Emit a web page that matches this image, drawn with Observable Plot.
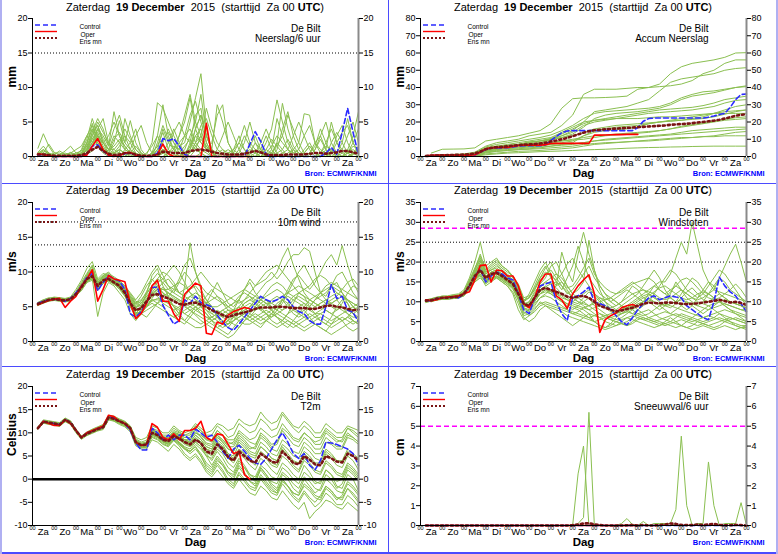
<!DOCTYPE html>
<html><head><meta charset="utf-8">
<script src="https://cdn.jsdelivr.net/npm/d3@7"></script>
<script src="https://cdn.jsdelivr.net/npm/@observablehq/plot@0.6"></script>
<style>
body{margin:0;background:#fff;}
#fig{position:relative;width:778px;height:554px;background:#fff;overflow:hidden;}
.panel{position:absolute;}
.panel svg{display:block;}
.sep{position:absolute;background:#4b4bff;}
.edge{position:absolute;background:#b0b0f2;}
</style></head><body><div id="fig"></div>
<script>
const FONT = '"Liberation Sans", Arial, sans-serif';
const dayNames = ["Za","Zo","Ma","Di","Wo","Do","Vr","Za","Zo","Ma","Di","Wo","Do","Vr","Za"];
const dayBounds = [0,24,48,72,96,120,144,168,192,216,240,264,288,312,336,360];
const dayNoons = [12,36,60,84,108,132,156,180,204,228,252,276,300,324,348];
const titleParts = [["Zaterdag  ", "normal"], ["19 December", "bold"], ["  2015  (starttijd  Za 00 ", "normal"], ["UTC", "bold"], [")", "normal"]];
const station = "De Bilt";
const source = "Bron: ECMWF/KNMI";
const legendLabels = ["Control", "Oper", "Ens mn"];

// ---------- Neerslag/6 uur (mm), 6-hourly from +6h ----------
const precipTicks = [0,5,10,15,20];
const precipRefs = [15];
const precipControl = [0.2,0.3,0.1,0, 0,0,0,0, 0,0.3,1.5,1.7, 0.8,0.1,0,0.1, 0.4,0.5,0.2,0, 0,0,0.5,2.6, 2.3,2.6,1.5,0.3, 0,0,0,0, 0,0,0,0, 0,0,0,1.8, 3.6,2.2,0.3,0, 0,0,0,0, 0,0,0,0, 0,0.5,1.3,0.3, 3.5,7.0,3.5,0.2];
const precipOper = [0.4,0.3,0.1,0, 0,0,0,0, 0,0.2,1.5,2.6, 1.0,0.2,0,0.1, 0.5,0.6,0.2,0, 0,0,0.3,1.8, 0.4,0,0,0, 0,0,0,4.8, 0,0,0,0, 0,0,0,0];
const precipMean = [0.3,0.3,0.2,0.1, 0.1,0.1,0.1,0.1, 0.2,0.5,1.0,1.4, 0.8,0.4,0.2,0.3, 0.5,0.5,0.3,0.1, 0.1,0.1,0.3,0.7, 0.6,0.5,0.5,0.5, 0.8,0.9,1.0,0.9, 0.7,0.5,0.4,0.3, 0.3,0.3,0.4,0.6, 0.8,0.6,0.3,0.2, 0.2,0.2,0.3,0.3, 0.3,0.3,0.4,0.5, 0.5,0.4,0.5,0.6, 0.8,0.8,0.6,0.4];
const precipMembers = [
 [1.2,3.3,1.5,0.3, 0,0,0.2,0.5, 0.8,2.5,5.5,3.0, 1.0,0.2,0.5,1.0, 0.5,0,0,0, 0.3,2.0,7.8,7.0, 5.0,3.0,1.5,2.0, 5.0,8.5,12.0,4.0, 1.0,0,0,0.5, 1.0,0.3,0,0, 0,0.5,2.0,4.0, 8.2,5.0,2.0,0.5, 0,0.5,1.5,0.5, 0,0.5,1.0,0.5, 0,0,0.3,0.5],
 [0,0.5,1.8,0.6, 0.2,0.8,1.5,0.5, 0.5,1.5,3.5,5.5, 4.0,1.5,6.5,3.0, 1.5,0.5,0.2,0, 0,0.5,1.5,3.5, 1.0,0.3,0,1.0, 3.0,5.0,9.0,3.0, 1.0,7.5,5.0,2.0, 0.5,0,0,0.3, 1.0,0.5,0,0, 2.0,7.7,4.0,1.5, 0.5,0,0,1.0, 3.0,5.0,2.0,0.5, 0,1.0,3.0,6.5],
 [0.3,0,0,0.3, 0.8,0.3,0,0, 0.3,1.0,2.5,4.0, 5.5,2.0,1.0,0.5, 5.5,3.0,1.0,0.3, 0,0,0.5,2.0, 4.0,2.0,0.5,0, 1.5,4.0,6.0,3.0, 1.0,0.5,0,0, 0,1.0,3.0,1.5, 0.5,0,0,0.5, 1.5,3.0,6.0,4.0, 2.0,6.2,6.0,2.0, 0.5,0,0,0.5, 2.0,5.5,2.0,0.5],
 [0,0,0,0, 0,0.3,0.5,0.2, 1.0,3.0,4.5,2.0, 1.0,0.5,2.0,5.2, 2.0,5.2,2.0,0.5, 0,0,1.0,4.0, 2.0,1.0,3.0,5.0, 8.5,4.0,2.0,1.0, 0.5,0,0,0, 0.5,2.0,4.5,2.0, 1.0,0.5,0,0, 0,0.5,1.0,3.0, 5.0,3.0,1.0,0, 0,1.0,5.0,2.0, 1.0,0.5,0,0],
 [0.5,1.0,0.3,0, 0,0,0,0, 0.5,2.0,4.0,3.0, 2.0,1.0,0.5,0, 0,0.5,1.5,0.5, 0,0.5,3.0,7.5, 3.0,1.0,0,0, 2.0,6.0,7.0,2.0, 0.5,0,0,0, 0,0,0.5,1.5, 3.0,1.0,0.5,0.5, 2.0,1.0,0,0, 0,0,0.5,1.5, 4.0,2.0,0.5,0, 0,0.5,2.0,4.0],
 [0.2,0.5,0,0, 0,0,0,0, 0,0.5,2.0,4.0, 3.0,1.5,4.0,6.0, 3.0,1.0,0,0, 0,0,0.5,1.0, 0.5,0,0,0.5, 1.0,3.0,4.0,1.0, 2.0,6.0,7.5,2.0, 0.5,0,0,0, 0.5,2.0,4.0,2.0, 0.5,0,0,0, 0,1.0,2.0,0.5, 0,0,0.5,3.0, 4.5,2.0,0.5,0],
 [0,0,0,0, 0,0,0,0, 0.3,1.5,2.5,3.5, 1.5,0.5,0,0, 0,0,0,0, 0,0,0,0.5, 2.0,4.0,2.0,0.5, 0,0,0.5,1.0, 0.5,0,0,0, 0,0,0,0.5, 2.0,1.0,0,0, 0,0,0.5,1.0, 0.5,0,0,0, 0,0,0,0, 0,0.5,1.0,0.5],
 [0.6,1.5,0.5,0, 0.3,0.5,0.2,0, 0.3,1.2,3.0,4.5, 2.5,1.0,1.5,2.5, 1.5,0.5,0,0, 0.5,1.5,3.0,1.5, 0.5,1.0,3.0,6.0, 9.0,5.0,3.0,1.0, 0,0,0,0, 1.0,3.0,1.0,0, 0,0,0.5,1.5, 3.0,2.0,1.0,0.5, 1.0,3.0,4.5,2.0, 1.0,0.5,0,0, 0.5,1.0,0.5,0.5],
 [0,0.3,0.3,0, 0,0,0.5,1.0, 1.5,3.0,2.0,3.0, 1.0,0.5,0,0, 1.0,2.0,0.5,0, 0,0,1.0,0.5, 0,0.5,2.0,3.0, 2.0,1.0,0.5,0, 0,0.5,1.0,0.5, 0,0,0,0, 0,0,0,1.0, 5.5,3.0,1.0,0, 0,0,0,0, 0,0,2.0,3.5, 2.0,0.5,0,0],
 [0,0,0,0, 0,0,0,0, 0,0.5,1.5,2.0, 1.0,0.5,0.5,1.5, 3.0,2.0,4.0,1.0, 0,0,0,1.0, 0.5,0,0,0, 0.5,2.0,4.5,5.5, 3.0,1.0,0.5,0, 0,0,0,0, 0,0,0,0, 0,0,0,0, 0,0.5,1.5,0.5, 0,0,0,0, 0,0,0.5,1.5],
 [0.2,0.8,0.4,0, 0,0,0,0, 0.2,1.8,4.8,2.5, 1.2,0.8,2.5,3.5, 2.0,1.0,0.5,0, 0,0,2.0,4.5, 2.5,1.0,0.5,0, 0.5,1.5,2.5,1.5, 0.5,0,0.5,1.0, 0.5,0,0,0, 0,0,1.0,2.5, 1.5,0.5,0,0, 0,0,0,1.0, 2.5,1.0,0,0, 0,0.5,1.5,1.0],
 [0,0,0.2,0.5, 0.5,0,0,0.3, 0.5,0.8,2.0,3.0, 2.0,1.0,1.0,2.0, 4.0,2.5,1.0,0.2, 0,0,0,0.5, 1.0,3.5,5.0,3.0, 4.0,2.0,1.0,0.5, 0,0,0,0.5, 1.0,2.0,1.0,0.5, 0,0,0,0, 0.5,1.0,2.5,1.0, 0,0,0,0, 0.5,2.0,4.0,2.0, 0.5,0,0,0],
 [0.5,0.5,0.2,0, 0,0,0,0, 0,0.5,3.0,5.0, 3.5,2.0,0.5,0.5, 0,0,0,0, 0,0,0.5,2.5, 3.5,2.0,1.0,3.0, 6.0,8.0,5.0,2.0, 0.5,0,0,0, 0,0,0,0, 0,0.5,1.0,0.5, 0,0,0,0, 0,0,0.5,2.0, 3.0,1.0,0,0, 0,0,0,0],
 [0,0,0,0, 0,0,0,0, 0,0.3,0.8,1.5, 1.0,0.5,0.5,1.0, 0.5,0.2,0,0, 0,0,0,0, 0,0,0,0.5, 1.5,3.0,2.0,1.0, 0.5,0,0,0, 0,0,0.5,1.0, 0.5,0,0,0, 0,0,0,0, 0.5,0,0,0, 0,0,0,0, 0,0,0,0],
 [0.3,1.0,0.5,0, 0,0,0,0, 0,1.0,2.0,2.5, 2.0,3.0,5.0,3.0, 1.0,0.5,0,0, 0,0.5,1.5,1.0, 0,0,0,0, 0,1.0,3.0,7.0, 4.0,2.0,1.0,0, 0,0,0,0, 0,1.0,3.0,1.0, 0,0,0,0, 0,0,0,0, 0,0,0.5,2.0, 3.5,4.5,2.0,0.5],
 [0,0,0,0, 0,0,0,0, 0.2,1.0,3.5,4.5, 2.0,0.5,0,0, 0,1.0,3.0,4.5, 2.0,0.5,0,0, 0,0,0.5,1.5, 2.5,1.5,0.5,0, 0,1.0,3.0,5.0, 3.0,1.0,0,0, 0,0,0,0, 1.0,4.0,6.5,3.0, 1.0,0,0,0, 0,0,0,0, 0,0,0.5,1.0],
 [0.2,0.2,0,0, 0,0.2,0.6,0.3, 0.5,2.0,4.0,1.5, 0.5,0,0,0, 0,0,0,0, 0,0.3,1.0,0.5, 0,0,0,0, 0.5,2.0,3.0,1.5, 0.5,0,0,0, 0,0,0,0, 0,0,0,0, 0,0,0,0, 0,0,0,0, 0.5,1.5,1.0,0, 0,0,0,0],
 [0,0.3,0.5,0.2, 0,0,0,0, 0,0.5,1.5,4.0, 2.0,1.0,3.0,2.0, 1.0,0.5,0.5,0, 0,0,0,0, 0.5,1.5,1.0,0.5, 1.0,4.0,6.0,3.0, 1.0,0,0,0, 0,0.5,2.0,5.0, 2.0,0.5,0,0, 0,0,0,1.0, 2.0,0.5,0,0, 0,0,0,0, 1.0,3.0,5.0,2.0]
];

// ---------- Accum Neerslag (mm) ----------
const accumTicks = [0,10,20,30,40,50,60,70,80];
const accumControl = [0.2,0.5,0.6,0.6, 0.6,0.6,0.6,0.6, 0.6,0.9,2.4,4.1, 4.9,5.0,5.0,5.1, 5.5,6.0,6.2,6.2, 6.2,6.2,6.7,9.3, 11.6,13.8,14.8,15.0, 15.0,15.0,15.0,15.0, 15.0,15.0,15.0,15.0, 15.0,15.0,15.0,16.8, 20.4,22.0,22.3,22.3, 22.3,22.3,22.3,22.3, 22.3,22.3,22.3,22.3, 22.8,23.5,24.3,25.0, 28.5,33.0,36.0,36.2];
const accumOper = [0.4,0.7,0.8,0.8, 0.8,0.8,0.8,0.8, 0.8,1.0,2.5,4.5, 5.0,5.2,5.2,5.3, 5.8,6.4,6.6,6.6, 6.6,6.6,6.9,7.5, 7.6,7.6,7.6,7.6, 7.6,7.6,7.6,12.4, 12.4,12.5,12.6,12.7, 12.7,12.8,12.8,12.8];
const accumMean = [0.3,0.5,0.6,0.7, 0.8,0.9,1.0,1.1, 1.3,1.8,2.8,4.2, 5.0,5.4,5.6,5.9, 6.3,6.6,6.9,7.0, 7.2,7.5,8.0,8.7, 9.3,10.0,10.8,11.8, 12.8,13.8,14.6,15.2, 15.5,15.8,16.0,16.2, 16.4,16.6,16.8,17.0, 17.2,17.4,17.6,17.8, 18.0,18.4,18.6,18.8, 19.0,19.3,19.7,20.0, 20.4,20.8,21.3,22.0, 22.8,23.6,24.2,24.5];
// members every 12 h from +12h
const accumMembers = [
 [2.0,4.2, 4.3,4.4, 5.0,9.0, 10.0,11.0, 12.0,13.5, 15.0,19.0, 28.0,33.5, 34.0,34.0, 34.2,34.5, 35.0,39.0, 40.0,42.0, 48.0,52.0, 54.0,55.0, 56.0,57.5, 60.0,60.2],
 [0.5,1.0, 1.2,1.5, 2.5,6.0, 8.0,9.0, 10.0,12.0, 13.0,14.0, 18.0,24.0, 36.0,39.0, 39.0,39.0, 39.5,40.0, 40.0,40.5, 41.0,42.0, 44.0,48.0, 50.0,54.0, 56.0,56.0],
 [0.3,0.5, 0.6,0.8, 1.5,4.0, 5.0,6.0, 7.0,8.5, 9.0,10.0, 12.0,15.0, 20.0,26.0, 27.0,28.0, 29.0,31.0, 33.0,38.0, 43.0,45.0, 46.0,47.0, 48.0,50.0, 51.0,51.5],
 [0.2,0.3, 0.4,0.5, 1.0,3.5, 4.5,5.0, 6.0,7.0, 8.0,9.5, 11.0,13.0, 17.0,22.0, 24.0,25.0, 25.5,26.0, 27.0,28.0, 30.0,33.0, 35.0,36.0, 37.0,38.5, 40.0,41.0],
 [0.5,0.8, 1.0,1.2, 2.0,5.0, 6.0,6.5, 7.0,7.5, 8.0,10.0, 12.0,14.0, 18.0,20.0, 21.0,22.0, 23.0,24.0, 25.0,25.5, 26.0,26.5, 27.0,28.0, 29.0,31.0, 32.5,33.0],
 [0.1,0.2, 0.3,0.4, 0.8,3.0, 4.0,4.5, 5.0,5.5, 6.0,7.0, 8.0,9.0, 12.0,14.0, 15.0,15.5, 16.0,17.0, 19.0,20.0, 21.0,22.0, 23.0,24.0, 25.0,26.0, 26.5,27.0],
 [0.2,0.4, 0.5,0.6, 1.0,4.0, 5.0,5.5, 6.5,7.0, 7.5,8.0, 9.0,9.5, 10.0,11.0, 12.0,12.5, 13.0,13.5, 14.0,15.0, 16.0,17.0, 18.0,19.0, 20.0,21.0, 21.5,22.0],
 [0.0,0.1, 0.2,0.3, 0.5,2.0, 3.0,3.5, 4.0,4.5, 5.0,6.0, 7.0,7.5, 8.0,9.0, 10.0,10.5, 11.0,11.5, 12.0,12.5, 13.0,14.0, 15.0,15.5, 16.0,16.5, 17.0,17.0],
 [0,0, 0.1,0.2, 0.3,1.5, 2.0,2.5, 3.0,3.2, 3.5,4.0, 4.5,5.0, 6.0,7.0, 7.5,8.0, 8.5,9.0, 9.5,10.0, 10.5,11.0, 11.0,11.5, 11.5,12.0, 12.0,12.0],
 [0,0, 0,0.1, 0.2,1.0, 1.5,2.0, 2.2,2.5, 2.8,3.0, 3.2,3.5, 3.8,4.0, 4.2,4.5, 4.8,5.0, 5.2,5.3, 5.5,5.6, 5.8,5.9, 6.0,6.0, 6.0,6.0],
 [0.3,0.5, 0.8,1.0, 1.5,4.5, 6.0,7.0, 8.0,9.0, 10.0,11.0, 14.0,17.0, 20.0,21.0, 21.5,22.0, 22.0,22.0, 22.5,23.0, 23.0,23.5, 24.0,24.5, 25.0,25.0, 25.0,25.0],
 [0.2,0.4, 0.6,0.8, 1.2,3.0, 4.0,5.0, 5.5,6.0, 6.5,7.0, 7.5,8.0, 12.0,15.0, 16.0,17.0, 17.5,18.0, 19.0,20.0, 20.5,21.0, 22.0,23.0, 25.0,27.0, 29.0,30.0],
 [0.4,0.7, 1.0,1.2, 2.0,5.5, 7.0,8.0, 9.0,10.0, 11.0,12.5, 15.0,18.0, 22.0,25.0, 26.0,26.5, 27.0,27.5, 28.0,29.0, 31.0,34.0, 36.0,37.5, 38.0,39.0, 40.0,40.5],
 [0.1,0.3, 0.4,0.5, 1.0,3.5, 4.5,5.0, 5.5,6.0, 6.5,7.5, 9.0,10.0, 11.0,12.0, 12.5,13.0, 13.5,14.0, 14.5,15.0, 16.0,17.5, 18.5,19.5, 20.5,21.5, 22.5,23.0],
 [0.3,0.6, 0.8,1.0, 1.8,4.5, 5.5,6.0, 7.0,8.0, 9.0,10.5, 13.0,16.0, 19.0,21.0, 22.0,23.0, 24.0,25.0, 26.0,27.0, 27.5,28.0, 28.5,29.5, 31.0,33.0, 34.0,35.0],
 [0.1,0.2, 0.3,0.3, 0.6,2.5, 3.5,4.0, 4.5,5.0, 5.5,6.0, 6.5,7.0, 8.0,9.0, 9.5,10.0, 10.5,11.0, 11.5,12.0, 12.5,13.0, 13.5,14.0, 14.5,15.0, 15.5,16.0],
 [0.2,0.5, 0.7,0.9, 1.5,4.0, 5.0,6.0, 7.0,8.0, 9.0,10.0, 11.0,12.0, 14.0,16.0, 17.0,18.0, 18.5,19.0, 19.5,20.0, 20.5,21.0, 21.5,22.0, 23.0,24.5, 26.0,27.0],
 [0,0.1, 0.2,0.3, 0.5,2.5, 3.0,3.5, 4.0,4.2, 4.5,5.0, 5.5,6.0, 7.0,7.5, 8.0,8.2, 8.5,8.8, 9.0,9.5, 10.0,10.5, 11.0,11.5, 12.0,13.0, 14.0,14.5]
];

// ---------- 10m wind (m/s) ----------
const windTicks = [0,5,10,15,20];
const windRefs = [10.8,13.9,17.2];
const windControl = [5.5,5.8,6.0,6.1, 6.0,5.8,6.2,7.0, 8.0,9.2,9.8,7.3, 8.5,9.5,9.0,8.7, 7.5,4.0,3.5,4.3, 5.5,7.8,7.8,5.2, 3.8,2.5,3.0,6.0, 5.5,6.5,5.6,5.3, 5.0,3.8,2.8,2.0, 1.6,2.5,3.5,4.5, 5.5,6.5,6.0,5.7, 6.0,6.5,6.0,5.0, 4.3,4.0,3.0,2.5, 2.5,5.0,8.2,6.2, 6.5,4.5,4.2,2.8];
const windOper = [5.3,5.6,5.9,6.1, 6.2,4.9,5.8,6.5, 8.0,9.0,10.3,5.8, 7.5,9.5,9.0,8.8, 8.6,5.5,3.3,4.0, 5.5,8.0,8.8,5.8, 5.8,4.0,2.9,6.8, 7.6,8.4,8.0,1.2, 1.0,2.8,2.5,3.8, 4.3,4.6,4.9,4.7];
const windMean = [5.4,5.7,6.0,6.1, 6.0,5.9,6.1,6.8, 7.8,9.0,9.4,8.0, 8.8,9.0,8.5,8.0, 7.0,5.5,4.5,4.8, 5.8,6.7,6.8,6.5, 6.2,5.8,5.4,5.3, 5.5,5.6,5.3,5.0, 4.5,4.2,3.8,3.5, 3.8,4.0,4.2,4.4, 4.7,4.9,4.9,4.9, 5.0,5.0,4.9,4.8, 4.8,4.8,4.7,4.7, 4.9,5.1,5.2,5.0, 4.9,4.7,4.5,4.6];
const windMembers = [
 [5.3,5.7,6.2,6.3, 6.2,6.0,6.3,7.2, 8.5,9.8,11.0,8.2, 9.5,10.0,9.0,8.2, 7.5,6.0,4.0,5.0, 7.0,9.5,10.5,8.0, 6.5,5.0,4.0,8.0, 14.2,10.0,7.5,6.0, 5.0,3.5,2.5,3.0, 4.5,6.0,7.5,8.5, 7.0,6.0,5.5,4.5, 3.5,3.0,4.0,5.5, 7.0,6.5,5.0,4.0, 3.0,2.5,3.5,5.0, 6.0,5.5,4.0,3.0],
 [5.6,6.0,6.3,6.0, 5.8,5.7,5.8,6.5, 7.5,8.8,9.0,3.6, 7.0,8.5,8.0,7.0, 6.0,4.0,3.0,4.0, 5.0,6.0,5.5,5.0, 4.0,3.5,3.0,2.5, 3.5,4.5,5.0,4.0, 3.0,2.0,1.5,1.0, 2.0,3.0,3.5,3.0, 2.5,2.0,3.0,4.0, 3.5,2.5,2.0,3.0, 4.0,4.5,3.5,2.5, 2.0,1.5,2.5,3.5, 3.0,2.0,1.5,2.0],
 [5.4,5.9,6.1,6.2, 6.3,6.2,6.4,7.5, 8.8,10.5,11.5,9.0, 9.8,9.5,9.0,8.5, 8.0,7.0,6.0,7.0, 8.5,10.0,11.0,9.5, 8.0,7.0,8.5,10.0, 9.0,7.5,6.0,5.5, 7.0,8.5,7.0,5.5, 5.0,6.0,7.5,9.0, 8.0,8.5,9.0,10.0, 9.0,10.0,11.5,12.5, 12.5,13.5,13.0,10.0, 7.0,6.5,8.0,9.5, 10.0,8.5,7.0,6.0],
 [5.2,5.6,5.9,6.0, 5.9,5.8,6.0,6.6, 7.3,8.5,8.8,7.5, 8.3,8.8,8.3,7.5, 6.5,5.0,3.5,4.5, 6.0,7.5,8.0,7.0, 6.0,5.0,4.0,3.0, 4.0,5.0,5.5,4.5, 3.5,3.0,2.5,2.0, 3.0,4.0,5.0,5.5, 5.0,4.5,5.0,6.0, 6.5,6.0,5.0,4.0, 3.5,4.0,5.0,6.0, 6.5,7.0,8.0,8.5, 7.0,5.5,4.0,3.5],
 [5.5,5.8,6.0,6.2, 6.1,6.0,6.2,7.0, 8.0,9.2,10.0,8.5, 9.0,9.3,8.8,8.3, 7.5,6.5,5.5,6.0, 7.0,8.0,9.0,10.0, 9.5,8.5,7.0,6.5, 7.5,8.0,7.0,6.0, 5.0,4.0,3.5,4.0, 4.5,5.0,4.0,3.5, 4.5,5.5,6.0,5.0, 4.5,5.5,7.0,8.5, 10.0,11.0,9.5,8.0, 7.0,6.0,5.0,4.5, 5.5,7.0,8.0,7.5],
 [5.3,5.6,5.8,5.9, 5.8,5.7,5.9,6.5, 7.8,9.0,9.6,7.8, 8.5,8.7,8.2,7.8, 6.8,5.2,4.2,4.0, 4.5,5.0,5.5,6.0, 6.5,6.0,5.5,5.0, 4.5,4.0,3.5,3.0, 2.5,2.0,2.5,3.0, 2.5,2.0,3.0,4.0, 5.0,6.0,6.5,7.0, 7.5,7.0,6.0,5.0, 4.0,3.5,3.0,3.5, 4.0,4.5,4.0,3.5, 3.0,3.5,4.5,5.0],
 [5.6,5.9,6.2,6.4, 6.3,6.1,6.2,6.9, 8.2,9.5,10.5,8.8, 9.5,9.8,9.3,8.8, 8.0,6.8,5.8,5.5, 6.5,7.5,8.5,9.0, 10.0,11.0,10.0,8.5, 7.0,6.0,5.5,6.5, 7.5,6.5,5.5,4.5, 4.0,5.0,6.0,6.5, 5.5,4.5,4.0,3.5, 4.5,6.0,7.5,9.0, 9.5,8.5,7.5,8.5, 10.0,11.5,12.5,11.0, 13.8,11.0,8.5,7.0],
 [5.4,5.7,5.9,6.0, 6.0,6.0,6.1,6.8, 7.6,8.8,9.2,7.3, 8.6,9.0,8.6,8.0, 7.0,5.8,4.8,5.5, 6.5,7.0,6.5,5.5, 5.0,4.5,5.0,5.5, 6.5,7.0,6.5,5.5, 4.5,4.0,4.5,5.0, 5.5,6.0,5.0,4.0, 3.5,3.0,3.5,4.0, 5.0,6.0,5.5,4.5, 4.0,5.0,6.0,5.5, 5.0,4.5,4.0,4.5, 5.0,4.5,4.0,4.5],
 [5.5,5.9,6.1,6.1, 6.0,5.9,6.1,6.7, 7.5,8.6,9.0,8.5, 9.0,9.2,8.7,8.0, 7.2,6.0,5.0,4.0, 3.5,4.5,5.5,6.5, 7.0,6.5,6.0,5.5, 5.0,5.5,6.0,5.0, 4.0,3.5,3.0,2.5, 3.0,3.5,4.0,4.5, 4.5,5.0,5.5,5.0, 4.5,4.0,3.5,3.0, 2.5,2.0,2.5,3.0, 3.5,3.0,2.5,3.0, 3.5,3.0,2.5,3.0],
 [5.3,5.7,6.0,6.2, 6.1,6.0,6.2,6.9, 8.0,9.5,10.0,8.3, 9.2,9.5,8.8,8.5, 7.5,6.2,5.0,5.5, 6.8,8.0,9.0,8.5, 7.5,7.0,6.5,6.0, 6.5,6.0,5.0,4.5, 4.0,4.5,4.0,3.5, 4.0,4.5,5.5,6.0, 6.5,7.5,8.5,9.0, 10.0,12.0,13.5,11.0, 9.0,7.0,6.0,6.5, 7.0,7.5,8.0,7.5, 7.0,6.0,5.0,4.0],
 [5.4,5.8,6.0,6.1, 6.1,6.0,6.2,7.0, 8.0,9.0,9.5,8.0, 8.8,9.0,8.6,8.2, 7.2,5.8,4.6,4.5, 5.5,6.0,6.0,5.8, 5.5,5.2,4.8,4.0, 3.5,3.0,2.5,3.0, 3.5,4.0,3.5,3.0, 3.5,4.0,4.5,5.0, 6.0,6.5,6.0,5.5, 5.0,4.5,5.0,6.0, 6.5,6.0,5.5,5.0, 5.5,6.0,6.5,7.0, 6.5,6.0,5.0,4.5],
 [5.2,5.5,5.8,6.0, 5.9,5.8,6.0,6.6, 7.4,8.5,9.2,7.7, 8.6,8.8,8.4,7.8, 6.7,5.0,3.8,4.2, 5.0,6.2,7.2,7.8, 7.0,6.2,5.8,5.2, 4.5,3.8,3.0,2.5, 2.0,1.5,1.0,0.5, 1.0,2.0,3.0,3.5, 4.0,3.5,3.0,2.5, 2.0,2.5,3.0,2.5, 2.0,1.5,2.0,2.5, 2.0,1.5,1.0,1.5, 2.0,2.5,3.0,2.5],
 [5.4,5.8,6.1,6.2, 6.1,6.0,6.2,7.0, 8.3,9.6,10.8,8.5, 9.3,9.6,9.0,8.4, 7.6,6.4,5.2,5.8, 7.2,8.8,9.8,9.0, 8.0,7.5,7.0,6.5, 6.0,5.5,5.0,5.5, 6.0,6.5,6.0,5.0, 4.5,4.0,4.5,5.0, 5.5,6.0,7.0,8.0, 8.5,8.0,7.0,6.5, 6.0,5.5,5.0,6.0, 7.0,8.0,8.5,8.0, 7.5,7.0,6.5,6.0],
 [5.3,5.6,5.9,6.0, 6.0,5.9,6.0,6.7, 7.6,8.8,9.2,7.6, 8.5,8.8,8.4,7.9, 6.9,5.3,4.0,4.3, 5.2,5.8,6.2,6.0, 5.5,4.5,3.5,3.0, 2.5,2.0,2.0,2.5, 3.0,3.5,3.0,2.5, 3.0,3.5,4.0,3.5, 3.0,2.5,3.0,3.5, 4.0,3.5,3.0,2.5, 3.0,3.5,4.0,3.5, 3.0,2.5,2.0,2.5, 3.0,3.5,3.0,2.5],
 [5.5,5.8,6.0,6.1, 6.1,6.1,6.3,7.1, 8.1,9.3,10.2,8.4, 9.1,9.4,8.9,8.4, 7.4,6.3,5.4,6.5, 8.0,9.0,8.0,7.0, 6.5,7.5,9.0,11.0, 12.0,10.0,8.0,7.0, 6.5,6.0,5.5,5.0, 5.5,6.5,7.0,6.5, 6.0,5.5,5.0,4.5, 4.0,4.5,5.5,6.5, 7.0,7.5,8.0,9.0, 9.5,9.0,8.0,7.0, 6.5,6.0,5.5,5.0],
 [5.2,5.6,5.9,6.1, 6.0,5.9,6.1,6.8, 7.7,8.9,9.4,7.9, 8.7,9.0,8.5,8.0, 7.1,5.6,4.4,4.9, 6.0,7.0,7.5,7.0, 6.0,5.0,4.5,4.0, 4.5,5.0,4.5,4.0, 3.0,2.5,2.0,2.5, 3.5,4.5,5.5,6.0, 5.5,5.0,4.0,3.0, 2.5,3.0,4.0,4.5, 5.0,5.5,4.5,4.0, 4.5,5.0,5.5,6.0, 5.0,4.0,3.0,2.5],
 [5.6,6.0,6.2,6.3, 6.2,6.1,6.3,7.0, 8.2,9.4,10.4,8.6, 9.4,9.6,9.1,8.6, 7.8,6.6,5.6,5.0, 5.5,6.5,7.5,8.5, 9.0,8.0,7.0,7.5, 8.0,9.0,10.0,9.0, 8.0,7.5,7.0,6.5, 6.0,5.5,6.0,7.0, 8.0,9.0,10.0,10.5, 11.0,10.0,9.0,8.0, 7.0,6.5,6.0,5.5, 5.0,5.5,6.0,6.5, 7.5,8.5,9.0,8.0],
 [5.3,5.7,5.9,6.0, 5.9,5.8,6.0,6.7, 7.5,8.7,9.1,7.4, 8.4,8.7,8.3,7.7, 6.6,5.1,3.9,4.4, 5.6,6.8,7.5,7.5, 7.0,6.5,6.0,5.5, 5.5,5.0,4.0,3.5, 3.0,3.5,4.0,4.5, 4.5,4.0,3.5,3.0, 3.5,4.0,4.5,4.0, 3.5,3.0,2.5,2.0, 2.5,3.0,3.5,4.0, 4.0,3.5,3.0,3.5, 4.0,4.5,5.0,5.5],
 [5.4,5.8,6.0,6.2, 6.2,6.0,6.1,6.9, 7.9,9.1,9.8,8.1, 8.9,9.2,8.7,8.1, 7.3,5.9,4.9,5.2, 6.2,7.2,7.8,7.5, 7.5,8.0,8.5,8.0, 7.0,6.5,6.0,5.5, 5.0,5.0,5.5,6.0, 6.5,7.0,7.5,7.0, 6.5,6.0,5.5,5.5, 6.0,6.5,7.0,7.5, 8.0,7.5,7.0,6.5, 6.0,5.5,5.5,6.0, 6.5,6.0,5.5,5.0],
 [5.5,5.9,6.1,6.2, 6.1,5.9,6.0,6.8, 7.7,8.7,9.3,8.2, 8.9,9.1,8.6,8.1, 7.2,5.7,4.7,4.7, 5.0,5.5,5.0,4.5, 4.0,3.5,4.0,4.5, 5.0,4.5,4.0,3.5, 3.5,4.0,4.5,4.0, 3.5,3.0,2.5,2.5, 3.0,3.5,4.0,4.5, 5.5,6.0,6.5,6.0, 5.5,5.0,4.5,5.0, 5.5,6.0,5.5,5.0, 4.5,4.0,3.5,3.5]
];

// ---------- Windstoten (m/s) ----------
const gustTicks = [0,5,10,15,20,25,30,35];
const gustRefs = [20,25];
const gustWarn = [28.5];
const gustControl = [10.3,10.3,10.8,11.0, 11.0,11.2,11.0,12.0, 14.0,16.5,18.3,15.0, 16.5,17.5,17.0,16.0, 15.5,12.0,8.0,7.0, 11.0,14.0,14.5,15.0, 10.0,7.0,5.3,11.0, 11.5,12.5,13.7,10.0, 9.5,9.0,8.0,6.5, 5.0,4.2,6.0,8.0, 9.5,11.0,11.5,10.5, 11.0,11.5,11.2,11.0, 9.0,8.0,7.0,6.0, 5.5,10.0,16.2,14.0, 12.5,11.5,9.5,7.5];
const gustOper = [10.5,10.3,10.5,11.0, 11.2,11.3,11.5,12.0, 12.5,15.5,19.1,19.3, 15.0,18.0,17.8,16.5, 16.5,14.0,9.5,8.5, 11.0,15.0,17.0,17.0, 11.5,10.5,8.3,12.0, 14.0,15.5,16.8,12.0, 2.3,5.5,6.5,7.2, 8.5,9.0,9.3,8.8];
const gustMean = [10.3,10.4,10.8,11.0, 11.0,11.2,11.3,12.0, 14.0,16.5,18.0,16.0, 17.0,17.3,16.5,15.5, 14.5,12.0,9.5,9.0, 11.0,13.0,13.5,13.0, 12.5,12.0,11.3,11.0, 11.3,11.5,11.0,10.0, 9.0,8.5,8.0,7.6, 7.8,8.2,8.5,9.0, 9.5,9.8,9.7,9.6, 9.8,9.8,9.7,9.5, 9.4,9.5,9.6,9.8, 10.0,10.2,10.5,10.2, 9.8,10.0,9.7,9.2];
const gustMembers = [
 [10.0,10.5,11.0,11.5, 11.5,11.8,12.0,13.0, 16.0,20.0,25.0,19.0, 20.0,21.0,19.0,18.0, 16.0,13.0,10.0,11.0, 14.0,17.0,19.0,16.0, 14.0,22.5,18.0,15.0, 22.0,27.5,22.0,18.0, 14.0,12.0,10.0,9.0, 10.0,12.0,14.0,13.0, 11.0,10.0,9.0,8.0, 9.0,12.0,15.0,13.0, 11.0,10.0,9.0,10.0, 12.0,11.0,10.0,9.0, 8.0,7.0,6.0,5.0],
 [10.2,10.0,10.5,10.8, 10.8,11.0,11.2,11.5, 13.5,15.0,16.5,14.0, 15.0,16.0,15.0,14.0, 12.0,8.0,5.5,6.5, 8.0,10.0,9.0,8.0, 7.0,6.0,5.0,4.0, 5.0,6.0,7.0,5.0, 4.0,3.5,4.0,5.0, 4.5,4.0,5.0,6.0, 5.5,5.0,4.5,4.0, 5.0,6.0,5.0,4.0, 3.5,4.0,5.0,4.5, 4.0,3.5,4.0,5.0, 4.5,4.0,3.5,3.0],
 [10.5,10.8,11.2,11.3, 11.3,11.5,11.8,12.5, 15.0,18.0,21.0,17.0, 18.5,19.5,18.0,17.0, 15.5,14.0,10.0,12.0, 15.0,18.0,20.0,17.0, 15.0,13.0,16.0,19.0, 24.0,20.0,16.0,14.0, 12.0,11.0,10.0,11.0, 12.0,13.0,12.0,11.0, 10.0,12.0,14.0,15.0, 15.0,17.0,21.0,25.0, 22.0,30.0,24.0,18.0, 15.0,13.0,16.0,19.0, 22.0,24.5,20.0,15.0],
 [9.8,10.2,10.6,10.8, 10.8,11.0,11.0,11.8, 13.0,15.5,17.5,15.5, 16.0,16.5,15.5,14.5, 13.5,11.0,7.0,8.0, 10.0,12.0,13.0,12.0, 11.0,10.0,9.0,8.0, 9.0,10.0,11.0,9.0, 8.0,7.0,6.0,5.5, 6.0,7.0,8.0,9.0, 10.0,11.0,10.0,9.0, 8.0,7.0,8.0,9.0, 10.0,9.0,8.0,7.0, 8.0,9.0,10.0,9.0, 8.0,7.5,7.0,6.5],
 [10.3,10.6,11.0,11.2, 11.2,11.4,11.5,12.3, 14.5,17.5,19.5,16.5, 17.5,18.0,17.0,16.0, 15.0,13.0,9.0,10.0, 12.5,14.0,15.0,16.0, 17.0,16.0,14.0,12.0, 13.0,15.0,25.5,18.0, 13.0,10.0,8.0,7.0, 8.0,9.0,10.0,11.0, 12.0,13.0,14.0,13.0, 12.0,11.0,10.0,12.0, 14.0,16.0,15.0,13.0, 12.0,14.0,16.0,15.0, 13.0,12.0,11.0,10.0],
 [10.0,10.2,10.5,10.7, 10.7,10.9,11.0,11.6, 13.5,16.0,18.5,15.0, 16.5,17.0,16.0,15.0, 14.0,11.5,8.5,7.5, 9.0,11.0,12.0,13.0, 14.0,15.0,13.0,11.0, 10.0,9.0,8.0,7.0, 6.0,5.0,4.5,4.0, 4.5,5.0,6.0,7.0, 7.5,8.0,7.0,6.0, 5.5,5.0,6.0,7.0, 6.5,6.0,5.5,5.0, 5.5,6.0,7.0,6.5, 6.0,5.5,5.0,4.5],
 [10.4,10.7,11.1,11.3, 11.3,11.5,11.6,12.5, 15.5,18.5,21.5,17.5, 19.0,20.0,18.5,17.5, 16.5,14.5,11.0,11.5, 13.0,15.5,17.0,18.0, 16.0,14.0,12.0,13.0, 15.0,17.0,19.0,16.0, 14.0,12.0,11.0,10.0, 9.0,8.0,7.0,8.0, 9.0,10.0,12.0,14.0, 16.0,18.0,17.0,15.0, 13.0,12.0,11.0,12.0, 14.0,16.0,18.0,17.0, 15.0,13.0,11.0,9.0],
 [10.1,10.3,10.6,10.9, 10.9,11.0,11.2,11.8, 13.8,16.0,17.5,16.0, 16.5,17.0,16.5,15.5, 14.5,12.0,9.0,8.5, 10.5,12.5,13.5,12.5, 11.5,10.5,9.5,8.5, 8.0,7.0,6.0,5.0, 4.0,3.5,4.5,6.0, 7.0,8.0,9.0,8.0, 7.0,6.0,5.5,5.0, 4.5,4.0,3.5,4.0, 5.0,6.0,7.0,8.0, 9.0,8.0,7.0,6.0, 5.0,4.0,3.5,3.5],
 [10.2,10.4,10.7,11.0, 11.0,11.1,11.3,12.0, 14.0,16.5,18.0,15.5, 16.0,16.5,15.8,15.0, 13.5,10.5,6.5,7.0, 8.5,9.5,10.0,9.5, 9.0,8.5,8.0,7.5, 7.0,6.5,6.0,6.5, 7.0,6.5,6.0,6.5, 7.0,7.5,7.0,6.5, 6.0,5.5,5.0,5.5, 6.0,6.5,7.0,6.5, 6.0,5.5,5.0,4.5, 4.0,4.5,5.0,5.5, 6.0,5.5,5.0,4.5],
 [10.3,10.5,10.9,11.1, 11.1,11.3,11.4,12.2, 14.2,17.0,19.0,16.5, 17.0,17.5,17.0,16.0, 15.0,12.5,9.5,10.0, 12.0,14.5,16.0,19.0, 20.0,17.0,14.0,12.0, 11.0,10.0,9.0,10.0, 11.0,10.0,9.0,8.0, 9.0,10.0,11.0,12.0, 14.0,16.0,18.0,16.0, 13.0,11.0,10.0,9.0, 8.0,9.0,11.0,13.0, 15.0,14.0,12.0,11.0, 10.0,9.5,9.0,8.5],
 [10.0,10.1,10.4,10.6, 10.6,10.8,10.9,11.5, 13.2,15.0,16.0,14.5, 15.5,16.0,15.0,14.0, 12.5,9.5,6.0,5.0, 6.0,8.0,9.0,8.5, 8.0,7.5,6.5,6.0, 5.5,5.0,4.5,4.0, 3.5,3.0,3.5,4.0, 5.0,6.0,5.5,5.0, 4.5,4.0,3.5,4.0, 4.5,5.0,4.5,4.0, 3.5,3.0,3.5,4.0, 3.5,3.0,3.5,4.0, 3.5,3.0,3.5,4.0],
 [10.4,10.6,11.0,11.2, 11.2,11.3,11.5,12.4, 14.8,17.5,20.0,17.0, 18.0,18.5,17.5,16.5, 15.0,13.0,9.5,9.0, 11.0,13.0,14.0,13.0, 12.0,11.0,10.5,10.0, 11.0,12.0,13.0,12.0, 10.5,9.0,8.5,9.0, 10.0,11.0,12.0,12.5, 13.0,12.5,12.0,11.0, 10.5,11.0,12.0,13.0, 12.0,11.0,10.0,9.5, 9.0,9.5,10.0,10.5, 10.0,9.5,9.0,8.5],
 [10.2,10.5,10.9,11.1, 11.1,11.2,11.4,12.1, 14.5,17.2,19.5,16.0, 17.5,18.0,17.0,16.0, 14.8,12.5,9.0,9.5, 11.5,13.5,15.0,14.5, 13.5,12.0,11.0,10.0, 9.5,11.0,12.5,11.5, 10.0,8.5,7.5,7.0, 7.5,8.5,9.5,10.5, 11.5,12.0,11.0,10.0, 9.0,8.5,9.5,11.0, 12.5,13.5,12.0,10.5, 10.0,11.0,12.0,11.0, 10.0,9.5,9.0,8.0],
 [10.1,10.3,10.6,10.8, 10.8,11.0,11.1,11.7, 13.6,15.8,17.0,15.0, 16.0,16.5,15.8,14.8, 13.8,11.2,8.0,7.8, 9.5,11.0,11.5,11.0, 10.0,9.0,8.0,7.0, 6.5,6.0,5.5,5.0, 5.5,6.0,5.5,5.0, 5.5,6.0,6.5,6.0, 5.5,6.0,6.5,7.0, 7.5,7.0,6.5,6.0, 5.5,5.0,5.5,6.0, 6.5,6.0,5.5,5.0, 5.5,6.0,5.5,5.0],
 [10.3,10.6,11.0,11.2, 11.2,11.4,11.6,12.4, 15.0,18.0,20.5,17.5, 18.0,19.0,18.0,16.5, 15.5,13.5,10.5,11.0, 13.5,16.0,17.5,16.5, 15.5,17.0,19.5,21.0, 18.0,16.0,14.0,12.0, 11.0,10.5,11.0,12.0, 13.0,14.0,15.0,14.0, 13.0,12.0,11.0,10.5, 11.0,12.5,14.0,15.5, 16.0,15.0,13.5,12.0, 11.0,10.5,11.0,12.0, 13.0,14.5,13.0,11.0],
 [10.0,10.3,10.7,10.9, 10.9,11.1,11.2,11.9, 14.0,16.8,18.5,15.5, 16.8,17.2,16.5,15.5, 14.5,12.0,8.5,8.0, 10.0,12.0,12.5,12.0, 11.0,10.0,9.5,9.0, 8.5,8.0,7.0,6.5, 6.0,6.5,7.0,7.5, 8.0,8.5,8.0,7.0, 6.5,7.0,8.0,9.0, 9.5,9.0,8.5,8.0, 7.5,7.0,6.5,6.0, 6.5,7.0,7.5,8.0, 7.5,7.0,6.5,6.0],
 [10.4,10.7,11.1,11.3, 11.3,11.5,11.7,12.6, 15.2,18.2,22.0,18.0, 19.5,20.5,19.0,18.0, 16.5,14.0,10.5,11.0, 13.0,16.0,18.5,20.0, 17.0,15.0,13.5,14.0, 16.0,18.5,21.0,17.0, 15.0,13.5,12.5,12.0, 12.5,13.5,14.5,15.0, 15.5,16.0,15.0,13.0, 12.0,13.0,14.0,13.0, 12.0,11.0,10.5,11.0, 12.0,13.0,12.5,12.0, 11.5,11.0,10.5,10.0],
 [10.1,10.2,10.5,10.7, 10.7,10.9,11.0,11.6, 13.5,15.5,16.8,14.8, 15.8,16.2,15.4,14.4, 13.2,10.5,7.5,6.5, 7.5,9.0,9.5,9.0, 8.5,8.0,7.5,7.0, 7.5,8.5,9.0,8.0, 7.0,6.0,5.5,5.0, 4.5,4.0,4.5,5.5, 6.0,5.5,5.0,4.5, 4.0,4.5,5.0,5.5, 5.0,4.5,4.0,4.5, 5.0,5.5,6.0,5.5, 5.0,4.5,4.0,4.0],
 [10.3,10.5,10.8,11.0, 11.0,11.2,11.3,12.1, 14.3,17.0,18.8,16.2, 17.2,17.6,16.8,15.8, 14.8,12.8,9.8,9.2, 10.8,12.8,13.8,14.5, 15.0,14.0,12.5,11.0, 10.0,9.5,9.0,9.5, 10.0,10.5,11.0,10.0, 9.0,8.5,9.0,10.0, 11.0,11.5,12.5,13.5, 14.0,13.0,12.0,11.0, 10.5,11.0,12.0,12.5, 12.0,11.0,10.0,9.5, 9.0,8.5,8.0,8.0],
 [10.2,10.4,10.7,10.9, 10.9,11.1,11.2,11.9, 13.9,16.2,17.8,15.8, 16.6,17.0,16.2,15.2, 14.2,11.5,8.8,8.8, 10.5,12.0,13.0,12.5, 12.0,11.5,10.5,9.5, 9.0,8.5,8.0,8.5, 9.0,8.5,8.0,7.5, 7.0,7.5,8.5,9.5, 10.0,10.5,10.0,9.5, 9.0,9.5,10.0,10.5, 10.0,9.5,9.0,8.5, 8.0,8.5,9.0,9.5, 9.0,8.5,8.0,7.5]
];

// ---------- T2m (Celsius) ----------
const tempTicks = [-10,-5,0,5,10,15,20];
const tempControl = [11.0,12.5,12.2,12.0, 11.8,12.8,12.3,10.5, 9.0,10.0,10.3,11.0, 11.2,13.5,13.2,12.5, 12.0,10.5,7.8,6.3, 6.3,11.0,10.0,8.5, 9.5,8.5,9.5,9.5, 8.5,10.8,10.0,9.0, 9.5,8.0,6.0,4.5, 6.5,7.3,6.0,4.5, 3.5,3.2,4.5,6.5, 8.5,10.0,8.0,5.5, 4.5,5.5,3.0,2.0, 4.0,8.0,7.8,7.5, 7.0,6.5,5.5,3.0];
const tempOper = [11.0,12.5,12.0,11.6, 11.6,12.8,12.0,10.5, 9.0,10.0,10.5,11.0, 11.5,13.8,13.5,12.5, 12.0,11.0,8.0,7.3, 7.5,12.0,11.2,9.0, 8.5,9.8,8.5,10.5, 10.5,11.0,12.5,9.0, 8.3,9.8,9.5,7.5, 5.5,6.0,1.0,0.0];
const tempMean = [11.0,12.4,12.2,12.0, 11.8,12.8,12.2,10.5, 9.0,9.8,10.3,10.8, 11.2,13.3,13.0,12.5, 12.0,11.0,8.0,7.3, 7.5,10.0,9.5,8.5, 8.2,9.3,8.8,8.0, 7.5,8.5,7.8,6.0, 5.5,7.5,6.5,4.8, 4.0,6.0,5.0,4.0, 3.6,5.5,4.7,3.8, 3.5,6.0,4.8,3.5, 3.2,5.0,4.2,3.2, 3.0,5.0,4.5,3.8, 3.6,5.5,5.0,4.0];
const tempMembers = [
 [11.3,12.8,12.6,12.4, 12.2,13.2,12.6,10.8, 9.3,10.2,10.8,11.3, 11.8,13.8,13.6,13.0, 12.5,11.5,9.0,8.5, 9.0,11.5,11.0,10.0, 10.0,11.5,10.5,10.0, 10.5,12.0,11.0,10.0, 10.5,12.0,11.5,10.5, 11.0,13.0,12.0,11.5, 12.0,14.5,13.0,12.0, 12.5,14.5,13.0,11.5, 11.0,12.5,11.5,10.0, 10.0,12.0,11.0,10.0, 10.0,11.5,11.0,10.5],
 [10.8,12.2,11.9,11.6, 11.4,12.4,11.8,10.0, 8.6,9.4,9.9,10.4, 10.7,12.8,12.5,11.8, 11.3,10.2,7.2,6.5, 6.5,8.5,8.0,7.0, 6.0,7.5,6.5,5.0, 4.0,5.0,3.5,1.5, 0.5,2.0,0.5,-1.0, -2.0,0.0,-1.5,-3.0, -3.5,-1.5,-2.5,-4.0, -4.5,-2.5,-4.0,-5.5, -6.5,-5.0,-8.5,-7.0, -6.0,-4.5,-5.0,-6.0, -6.5,-5.0,-6.0,-7.0],
 [11.2,12.6,12.4,12.1, 12.0,13.0,12.5,10.7, 9.2,10.0,10.6,11.0, 11.5,13.5,13.2,12.8, 12.3,11.2,8.5,7.8, 8.0,10.5,10.0,9.0, 8.5,10.0,9.5,8.5, 8.0,9.5,8.5,7.0, 6.5,9.0,8.0,6.5, 6.0,8.5,7.5,6.0, 5.5,8.0,7.0,5.5, 5.0,7.5,6.5,5.0, 4.5,7.0,6.0,4.5, 4.0,6.5,5.5,4.0, 3.5,6.0,5.0,3.5],
 [10.9,12.3,12.1,11.9, 11.7,12.6,12.0,10.3, 8.8,9.7,10.2,10.6, 11.0,13.0,12.8,12.2, 11.7,10.7,7.6,6.8, 7.0,9.5,9.0,8.0, 7.5,8.5,7.5,6.5, 6.0,7.0,5.5,3.5, 2.5,4.5,3.0,1.0, 0.0,2.5,1.0,-0.5, -1.5,1.0,-0.5,-2.0, -3.0,0.0,-1.5,-3.0, -3.5,-1.0,-2.0,-3.5, -4.0,-1.5,-2.5,-4.0, -4.5,-2.0,-3.0,-4.5],
 [11.1,12.5,12.3,12.0, 11.9,12.9,12.3,10.6, 9.1,9.9,10.4,10.9, 11.3,13.4,13.1,12.6, 12.1,11.1,8.2,7.5, 7.8,10.2,9.8,8.8, 8.5,9.5,9.0,8.5, 8.5,10.0,9.5,8.5, 8.0,9.5,8.5,7.5, 8.0,10.5,9.5,8.5, 9.0,11.0,10.0,9.0, 9.5,12.0,10.5,9.0, 8.5,10.0,9.0,8.0, 8.5,10.5,9.5,8.5, 8.0,10.0,9.0,8.0],
 [10.8,12.1,11.8,11.7, 11.5,12.5,11.9,10.2, 8.7,9.5,10.0,10.5, 10.9,12.9,12.6,12.0, 11.5,10.5,7.5,6.8, 6.8,9.0,8.5,7.5, 7.0,8.5,7.5,6.5, 6.0,7.5,6.5,5.0, 4.5,6.5,5.5,3.5, 2.5,4.5,3.0,1.0, 0.0,2.5,1.0,-0.5, -1.0,1.5,0.5,-1.0, -2.0,0.5,-0.5,-2.0, -2.5,0.0,-1.0,-2.5, -3.0,-0.5,-1.5,-3.0],
 [11.0,12.4,12.3,12.2, 12.0,13.0,12.3,10.5, 9.0,9.9,10.5,11.0, 11.4,13.6,13.3,12.8, 12.2,11.3,8.3,7.6, 7.8,10.8,10.2,9.2, 9.0,10.5,10.0,9.5, 9.5,11.5,10.5,9.0, 8.5,10.5,9.5,8.0, 7.5,9.5,8.5,7.0, 6.5,9.0,8.0,6.5, 6.0,8.5,7.5,6.0, 5.5,8.0,7.0,5.5, 5.5,8.0,7.5,6.5, 6.5,9.0,8.5,7.5],
 [11.0,12.3,12.0,11.8, 11.6,12.7,12.1,10.4, 8.9,9.6,10.1,10.7, 11.1,13.1,12.9,12.3, 11.9,10.8,7.8,7.0, 7.2,9.8,9.2,8.2, 7.8,9.0,8.0,7.0, 6.5,8.0,7.0,5.5, 4.0,6.0,4.5,2.5, 1.5,4.0,2.5,0.5, -0.5,2.0,0.5,-1.5, -2.5,0.0,-1.5,-3.5, -4.5,-2.5,-4.0,-5.0, -3.5,-1.5,-2.5,-4.0, -4.0,-2.0,-3.5,-5.0],
 [11.2,12.6,12.2,11.9, 11.8,12.9,12.4,10.7, 9.2,10.1,10.5,11.0, 11.3,13.4,13.0,12.5, 12.0,10.9,8.0,7.2, 7.5,10.0,9.5,8.7, 8.3,9.5,9.0,8.2, 7.8,9.0,8.0,6.5, 6.0,8.0,7.0,5.0, 4.0,6.5,5.5,4.0, 3.5,6.0,5.0,3.5, 3.0,6.5,5.0,3.0, 2.0,4.5,3.5,2.0, 1.5,4.0,3.0,1.5, 1.0,3.5,2.5,1.0],
 [10.9,12.4,12.1,11.9, 11.7,12.7,12.1,10.4, 8.8,9.7,10.2,10.7, 11.1,13.2,12.9,12.3, 11.8,10.9,7.9,7.1, 7.3,9.7,9.3,8.3, 8.0,9.0,8.5,7.5, 7.0,8.0,7.0,5.0, 3.0,5.0,3.5,1.5, 0.5,3.0,1.5,-0.5, -1.0,2.5,1.0,-1.0, -2.0,1.0,0.0,-2.0, -3.0,0.0,-1.5,-3.0, -2.0,1.0,0.0,-2.0, -1.0,2.0,1.0,-0.5],
 [11.1,12.5,12.3,12.1, 11.9,12.9,12.3,10.6, 9.1,9.9,10.4,10.9, 11.3,13.5,13.2,12.6, 12.1,11.1,8.2,7.5, 7.7,10.4,9.9,9.0, 9.0,10.0,9.5,9.0, 9.0,10.5,9.0,7.5, 7.0,9.5,8.0,6.5, 6.0,8.0,7.0,5.5, 5.0,7.0,6.0,4.5, 4.0,6.0,5.0,3.5, 3.5,5.5,4.5,3.0, 3.0,5.5,4.5,3.0, 2.5,5.0,4.0,2.0],
 [11.0,12.4,12.1,11.9, 11.7,12.8,12.2,10.5, 9.0,9.8,10.3,10.8, 11.2,13.3,13.0,12.4, 11.9,10.9,8.0,7.2, 7.4,9.9,9.4,8.4, 8.0,9.2,8.6,7.8, 7.2,8.5,7.5,5.8, 5.0,7.0,6.0,4.5, 3.5,5.5,4.5,3.0, 2.0,4.5,3.5,2.0, 1.0,3.5,2.5,1.0, 0.0,3.0,1.5,-0.5, -1.0,2.0,1.0,-1.5, -2.0,1.0,0.0,-2.5],
 [11.1,12.6,12.4,12.2, 12.0,13.0,12.4,10.6, 9.1,10.0,10.5,11.0, 11.5,13.6,13.3,12.7, 12.2,11.2,8.3,7.6, 7.9,10.6,10.1,9.1, 8.8,10.2,9.7,9.0, 9.0,11.0,10.0,8.5, 8.5,10.5,9.5,8.5, 8.5,10.0,9.0,8.0, 7.5,9.5,8.5,7.0, 7.5,10.5,9.0,7.5, 7.0,9.0,8.0,6.5, 6.5,9.0,8.0,7.0, 7.0,9.5,9.0,8.0],
 [10.9,12.2,12.0,11.7, 11.5,12.6,12.0,10.3, 8.8,9.6,10.1,10.6, 11.0,13.0,12.7,12.1, 11.6,10.6,7.6,6.8, 6.9,9.2,8.7,7.7, 7.2,8.3,7.2,5.5, 4.5,5.5,4.0,2.0, 1.0,3.0,1.5,-0.5, -1.5,1.0,-0.5,-2.0, -2.5,0.0,-1.5,-3.0, -3.5,-1.0,-2.5,-4.0, -5.0,-3.0,-4.5,-6.0, -5.0,-3.0,-4.0,-5.5, -5.5,-3.5,-4.5,-6.0],
 [11.0,12.5,12.2,12.0, 11.8,12.8,12.2,10.5, 9.0,9.8,10.4,10.9, 11.3,13.4,13.1,12.5, 12.0,11.0,8.1,7.4, 7.6,10.2,9.7,8.7, 8.4,9.7,9.2,8.5, 8.5,10.0,9.2,7.8, 7.5,9.5,8.5,7.0, 7.0,9.0,8.0,6.5, 7.0,10.0,9.0,7.5, 8.0,11.0,10.0,8.5, 8.0,10.0,9.0,7.5, 7.5,10.0,9.0,8.0, 8.5,11.0,10.5,9.5],
 [10.8,12.3,12.0,11.8, 11.6,12.6,12.0,10.4, 8.9,9.7,10.1,10.6, 11.0,13.1,12.8,12.2, 11.7,10.7,7.7,6.9, 7.1,9.6,9.1,8.1, 7.7,8.8,8.0,6.8, 6.0,7.0,5.0,2.5, 1.5,3.5,2.0,0.0, -1.0,1.5,0.0,-1.5, -2.0,0.5,-1.0,-2.5, -3.0,-0.5,-1.5,-3.0, -3.5,-1.5,-2.5,-4.0, -4.5,-2.0,-3.0,-4.5, -3.5,-1.0,-2.0,-3.5],
 [11.2,12.7,12.5,12.3, 12.1,13.1,12.5,10.7, 9.2,10.1,10.7,11.2, 11.6,13.7,13.4,12.9, 12.4,11.4,8.7,8.0, 8.4,11.0,10.5,9.5, 9.5,11.0,10.2,9.5, 10.0,11.5,10.5,9.5, 9.5,11.5,10.5,9.0, 9.5,12.0,11.0,10.0, 10.5,13.0,12.0,10.5, 11.0,14.0,12.5,11.0, 10.0,11.5,10.5,9.0, 9.0,11.0,10.0,9.0, 9.0,11.0,10.0,9.0],
 [10.9,12.4,12.2,12.0, 11.8,12.7,12.1,10.4, 8.9,9.8,10.3,10.7, 11.2,13.2,12.9,12.3, 11.8,10.8,7.8,7.0, 7.2,9.5,9.0,8.0, 7.5,8.7,7.8,6.5, 5.5,6.5,5.0,3.0, 2.0,4.0,3.0,1.5, 1.0,3.5,2.5,1.0, 0.5,3.0,2.0,0.5, 0.0,2.5,1.5,0.0, -1.0,1.5,0.5,-1.0, -0.5,2.0,1.0,-0.5, 0.0,2.5,1.5,0.0],
 [11.0,12.4,12.2,11.9, 11.7,12.8,12.2,10.5, 9.0,9.8,10.3,10.8, 11.2,13.3,13.0,12.4, 11.9,10.9,8.0,7.2, 7.4,9.9,9.4,8.5, 8.1,9.3,8.8,8.0, 7.5,8.8,8.0,6.5, 6.0,8.0,7.0,5.5, 5.0,7.5,6.5,5.0, 4.5,7.0,6.0,4.5, 4.0,7.0,5.5,4.0, 3.5,6.0,5.0,3.5, 3.5,6.0,5.0,4.0, 4.0,6.5,5.5,4.5],
 [11.1,12.5,12.3,12.0, 11.9,12.9,12.3,10.6, 9.1,9.9,10.5,11.0, 11.4,13.5,13.2,12.6, 12.1,11.1,8.2,7.5, 7.7,10.3,9.8,8.9, 8.6,9.8,9.3,8.5, 8.0,9.5,8.5,7.0, 6.5,8.5,7.5,5.5, 4.5,6.5,5.5,4.0, 3.0,5.5,4.5,3.0, 2.5,5.0,4.0,2.5, 1.5,4.0,3.0,1.5, 1.0,3.5,2.5,1.0, 0.5,3.0,2.0,0.5]
];

// ---------- Sneeuwval/6 uur (cm) ----------
const snowTicks = [0,1,2,3,4,5,6,7];
const snowWarn = [5];
const snowControl = [0,0,0,0, 0,0,0,0, 0,0,0,0, 0,0,0,0, 0,0,0,0, 0,0,0,0, 0,0,0,0, 0,0,0,0, 0,0,0,0, 0,0,0,0, 0,0,0,0, 0,0,0,0, 0,0,0,0, 0,0,0,0, 0,0,0,0];
const snowOper = [0,0,0,0, 0,0,0,0, 0,0,0,0, 0,0,0,0, 0,0,0,0, 0,0,0,0, 0,0,0,0, 0,0,0,0, 0,0,0,0, 0,0,0,0];
const snowMean = [0,0,0,0, 0,0,0,0, 0,0,0,0, 0,0,0,0, 0,0,0,0, 0,0,0,0, 0,0,0,0.02, 0.05,0.1,0.12,0.05, 0.02,0,0,0, 0,0.01,0.02,0, 0.02,0,0,0.02, 0.05,0.1,0.08,0.03, 0.02,0.02,0.05,0.02, 0.05,0.08,0.03,0.01, 0.01,0.03,0.02,0];
const snowMembers = [
 [0,0,0,0, 0,0,0,0, 0,0,0,0, 0,0,0,0, 0,0,0,0, 0,0,0,0, 0,0,0,0, 2.6,4.0,0,0, 0,0,0,0, 0,0,0,0, 0,0,0,0, 0,0,0,0, 0,0,0,0, 0,0,0,0, 0,0,0,0],
 [0,0,0,0, 0,0,0,0, 0,0,0,0, 0,0,0,0, 0,0,0,0, 0,0,0,0, 0,0,0,0, 0.1,0.4,5.7,0, 0,0,0,0, 0,0,0,0, 0,0,0,0, 0,0,0,0, 0,0,0,0, 0,0,0,0, 0,0,0,0],
 [0,0,0,0, 0,0,0,0, 0,0,0,0, 0,0,0,0, 0,0,0,0, 0,0,0,0, 0,0,0,0, 0,0,0,0, 0,0,0,0, 0,0,0,0, 0,0,0,0, 0.1,0.1,0.8,4.5, 1.0,0,0,0, 0,0,0,0, 0,0,0,0],
 [0,0,0,0, 0,0,0,0, 0,0,0,0, 0,0,0,0, 0,0,0,0, 0,0,0,0, 0,0,0,0, 0,0,0,0, 0,0,0,0, 0,0,0,0, 0,0,0,0, 0,0,0,0, 0,0,0.1,0.1, 3.2,1.0,0,0, 0,0,0,0],
 [0,0,0,0, 0,0,0,0, 0,0,0,0, 0,0,0,0, 0,0,0,0, 0,0,0,0, 0,0,0,0, 0,0,0,0, 0,0,0,0, 0.1,0.35,0.05,0, 0.2,0,0,0, 0,0,0,0, 0,0,0,0, 0,0,0,0, 0,0,0,0],
 [0,0,0,0, 0,0,0,0, 0,0,0,0, 0,0,0,0, 0,0,0,0, 0,0,0,0, 0,0,0,0, 0,0,0,0, 0,0,0,0, 0,0,0,0, 0,0,0.1,0.1, 0.1,0.1,0,0, 0,0,0,0, 0,0,0,0.1, 0.1,0.1,1.15,0]
];

// ---------- drawing ----------
const GREEN = "#8abf50", BLUE = "#2b2bff", RED = "#ff0000", BROWN = "#7a1414";
const rows = (vals, step) => vals.map((v, i) => ({t: step + step * i, v}));
const memberRows = (members, step) => members.flatMap((m, k) => m.map((v, i) => ({t: step + step * i, v, k})));
const dotted = {stroke: "black", strokeWidth: 1, strokeDasharray: "1,2"};
const magenta = {stroke: "#ff00ff", strokeWidth: 1.4, strokeDasharray: "5,3"};

function makePanel(cfg) {
  const {left, top, width, height, mt, mb, ml, mr} = cfg;
  const y0 = cfg.yDomain[0];
  const plot = Plot.plot({
    width, height, marginLeft: ml, marginRight: mr, marginTop: mt, marginBottom: mb,
    x: {domain: [0, 360], axis: null},
    y: {domain: cfg.yDomain, axis: null},
    style: {fontFamily: FONT, fontSize: "9px", background: "transparent", overflow: "visible", color: "black"},
    marks: [
      ...(cfg.under || []),
      Plot.line(memberRows(cfg.members, cfg.mstep), {x: "t", y: "v", z: "k", stroke: GREEN, strokeWidth: 1}),
      ...(cfg.over || []),
      Plot.line(rows(cfg.control, 6), {x: "t", y: "v", stroke: BLUE, strokeWidth: 1.6, strokeDasharray: "5,3"}),
      Plot.line(rows(cfg.oper, 6), {x: "t", y: "v", stroke: RED, strokeWidth: 1.6}),
      Plot.line(rows(cfg.mean, 6), {x: "t", y: "v", stroke: BROWN, strokeWidth: 2.6, strokeDasharray: "2,3"}),
      Plot.ruleY([y0], {stroke: "black", strokeWidth: 1}),
      Plot.ruleX([0], {stroke: "black", strokeWidth: 1}),
      Plot.ruleX([360], {stroke: "#8a8a8a", strokeWidth: 2}),
      Plot.axisY({anchor: "left", ticks: cfg.yTicks, tickSize: 4, tickPadding: 1, fontSize: 9, label: null, tickFormat: d => String(d)}),
      Plot.axisY({anchor: "right", ticks: cfg.yTicks, tickSize: 4, tickPadding: 1, fontSize: 9, label: null, tickFormat: d => String(d)}),
      Plot.axisX({ticks: dayBounds, tickFormat: () => "00", tickSize: 0, tickPadding: 1, fontSize: 5.5, label: null}),
      Plot.axisX({ticks: dayNoons, tickFormat: d => dayNames[Math.floor(d / 24)], tickSize: 0, tickPadding: 3, fontSize: 9.5, label: null}),
      Plot.text([cfg.ylabel], {text: d => d, frameAnchor: "left", dx: -20, rotate: -90, fontSize: 12, fontWeight: "bold"}),
      Plot.text(["Dag"], {text: d => d, frameAnchor: "bottom", dy: 20.5, fontSize: 11.5, fontWeight: "bold"}),
      Plot.text([source], {text: d => d, frameAnchor: "bottom-right", dx: 18, dy: 19.5, textAnchor: "end", fill: "#0000ff", fontSize: 7.5, fontWeight: "bold"}),
      Plot.text([station], {text: d => d, frameAnchor: "top-right", dx: -38, dy: 6, fontSize: 10}),
      Plot.text([cfg.name], {text: d => d, frameAnchor: "top-right", dx: -38, dy: 16.5, fontSize: 10}),
      Plot.text([legendLabels[0]], {text: d => d, frameAnchor: "top-left", dx: 47, dy: 6, fontSize: 6.5}),
      Plot.text([legendLabels[1]], {text: d => d, frameAnchor: "top-left", dx: 48, dy: 13.5, fontSize: 6.5}),
      Plot.text([legendLabels[2]], {text: d => d, frameAnchor: "top-left", dx: 47, dy: 21, fontSize: 6.5})
    ]
  });
  const svg = d3.select(plot);
  const t = svg.append("text")
    .attr("x", ml + (width - ml - mr) / 2).attr("y", 8)
    .attr("text-anchor", "middle").attr("dominant-baseline", "middle")
    .attr("font-size", 11).attr("font-family", FONT).style("white-space", "pre");
  titleParts.forEach(([s, w]) => t.append("tspan").attr("font-weight", w).text(s));
  const g = svg.append("g");
  const lx0 = ml + 3, lx1 = ml + 25;
  const sw = [[BLUE, 1.4, "5,3", 7], [RED, 1.4, null, 13.5], [BROWN, 2.2, "2,2", 20]];
  sw.forEach(([c, w, da, dy]) => {
    const l = g.append("line").attr("x1", lx0).attr("x2", lx1).attr("y1", mt + dy).attr("y2", mt + dy)
      .attr("stroke", c).attr("stroke-width", w);
    if (da) l.attr("stroke-dasharray", da);
  });
  const div = document.createElement("div");
  div.className = "panel";
  div.style.left = left + "px"; div.style.top = top + "px";
  div.appendChild(plot);
  document.getElementById("fig").appendChild(div);
}

const L = {left: 0, width: 389, ml: 32, mr: 31};
const R = {left: 388, width: 390, ml: 32, mr: 32};
const row1 = {top: 0, height: 184, mt: 18, mb: 28};
const row2 = {top: 183, height: 184, mt: 19, mb: 26};
const row3 = {top: 367, height: 187, mt: 19, mb: 29};

makePanel({...L, ...row1, yDomain: [0, 20], yTicks: precipTicks, ylabel: "mm", name: "Neerslag/6 uur",
  members: precipMembers, mstep: 6, control: precipControl, oper: precipOper, mean: precipMean,
  under: [Plot.ruleY(precipRefs, dotted)]});
makePanel({...R, ...row1, yDomain: [0, 80], yTicks: accumTicks, ylabel: "mm", name: "Accum Neerslag",
  members: accumMembers, mstep: 12, control: accumControl, oper: accumOper, mean: accumMean});
makePanel({...L, ...row2, yDomain: [0, 20], yTicks: windTicks, ylabel: "m/s", name: "10m wind",
  members: windMembers, mstep: 6, control: windControl, oper: windOper, mean: windMean,
  under: [Plot.ruleY(windRefs, dotted)]});
makePanel({...R, ...row2, yDomain: [0, 35], yTicks: gustTicks, ylabel: "m/s", name: "Windstoten",
  members: gustMembers, mstep: 6, control: gustControl, oper: gustOper, mean: gustMean,
  under: [Plot.ruleY(gustRefs, dotted), Plot.ruleY(gustWarn, magenta)]});
makePanel({...L, ...row3, yDomain: [-10, 20], yTicks: tempTicks, ylabel: "Celsius", name: "T2m",
  members: tempMembers, mstep: 6, control: tempControl, oper: tempOper, mean: tempMean,
  over: [Plot.ruleY([0], {stroke: "black", strokeWidth: 2.5})]});
makePanel({...R, ...row3, yDomain: [0, 7], yTicks: snowTicks, ylabel: "cm", name: "Sneeuwval/6 uur",
  members: snowMembers, mstep: 6, control: snowControl, oper: snowOper, mean: snowMean,
  under: [Plot.ruleY(snowWarn, magenta)]});

const fig = document.getElementById("fig");
[[388, 0, 1, 554], [0, 183, 778, 1], [0, 366, 778, 1], [0, 552, 778, 2]].forEach(([x, y, w, h]) => {
  const d = document.createElement("div"); d.className = "sep";
  Object.assign(d.style, {left: x + "px", top: y + "px", width: w + "px", height: h + "px"});
  fig.appendChild(d);
});
[[0, 0, 2, 554], [776, 0, 2, 554]].forEach(([x, y, w, h]) => {
  const d = document.createElement("div"); d.className = "edge";
  Object.assign(d.style, {left: x + "px", top: y + "px", width: w + "px", height: h + "px"});
  fig.appendChild(d);
});
</script>
</body></html>
